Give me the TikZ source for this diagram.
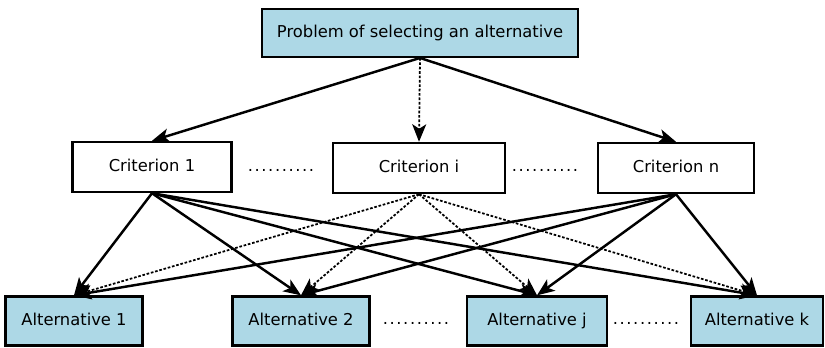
\documentclass[tikz,border=0pt]{standalone}
\usepackage{fontspec}
\setmainfont{DejaVu Sans}
\usepackage{tikz}
\usetikzlibrary{arrows.meta,positioning}
\definecolor{altblue}{RGB}{173,216,230}
\tikzset{
  probbox/.style={ draw, line width=1.1pt, fill=altblue, minimum width=6.32cm, minimum height=0.96cm, text height=0.75em, text depth=0.25em, font=\fontsize{9.3}{11}\selectfont }
}
\tikzset{
  critbox/.style={ draw, line width=1.4pt, fill=white, minimum height=1.0cm, text height=0.75em, text depth=0.25em, font=\fontsize{9.3}{11}\selectfont }
}
\tikzset{
  altbox/.style={ draw, line width=1.3pt, fill=altblue, minimum width=2.74cm, minimum height=0.98cm, text height=0.75em, text depth=0.25em, font=\fontsize{9.3}{11}\selectfont }
}
\tikzset{
  arr/.style={ line width=1.4pt, -{Stealth[length=3.5mm, width=2.8mm, inset=0.9mm]} },
  arrdot/.style={ arr, line width=1pt, dash pattern=on 1.5pt off 1pt },
  dotsep/.style={ font=\fontsize{9.3}{11}\selectfont }
}
\newcommand{\dotrow}{.\kern0.9pt.\kern0.9pt.\kern0.9pt.\kern0.9pt.\kern0.9pt.\kern0.9pt.\kern0.9pt.\kern0.9pt.\kern0.9pt.}

\begin{document}
\begin{tikzpicture}[y=1cm, x=1cm]
        \useasboundingbox (0, 0) rectangle (16.5, 6.96);
        \node[probbox] (prob) at (8.40, 6.30) {Problem of selecting an alternative};
        \node[critbox, minimum width=3.18cm] (c1) at (3.04, 3.62) {Criterion 1};
        \node[critbox, minimum width=3.44cm] (ci) at (8.38, 3.60) {Criterion i};
        \node[critbox, minimum width=3.12cm] (cn) at (13.52, 3.60) {Criterion n};
        \node[dotsep] (d1) at (5.62, 3.56) {\dotrow};
        \node[dotsep] (d2) at (10.90, 3.56) {\dotrow};
        \node[altbox] (a1) at (1.48, 0.54) {Alternative 1};
        \node[altbox] (a2) at (6.02, 0.54) {Alternative 2};
        \node[altbox, minimum width=2.8cm] (aj) at (10.74, 0.54) {Alternative j};
        \node[altbox, minimum width=2.64cm] (ak) at (15.14, 0.54) {Alternative k};
        \node[dotsep] (d3) at (8.32, 0.50) {\dotrow};
        \node[dotsep] (d4) at (12.92, 0.50) {\dotrow};
        % problem to criteria
        \draw[arr] (prob.south) -- (c1.north);
        \draw[arrdot] (prob.south) -- (ci.north);
        \draw[arr] (prob.south) -- (cn.north);
        % criteria to alternatives
        \draw[arr] (c1.south) -- (a1.north);
        \draw[arr] (c1.south) -- (a2.north);
        \draw[arr] (c1.south) -- (aj.north);
        \draw[arr] (c1.south) -- (ak.north);
        \draw[arrdot] (ci.south) -- (a1.north);
        \draw[arrdot] (ci.south) -- (a2.north);
        \draw[arrdot] (ci.south) -- (aj.north);
        \draw[arrdot] (ci.south) -- (ak.north);
        \draw[arr] (cn.south) -- (a1.north);
        \draw[arr] (cn.south) -- (a2.north);
        \draw[arr] (cn.south) -- (aj.north);
        \draw[arr] (cn.south) -- (ak.north);
      \end{tikzpicture}
\end{document}
